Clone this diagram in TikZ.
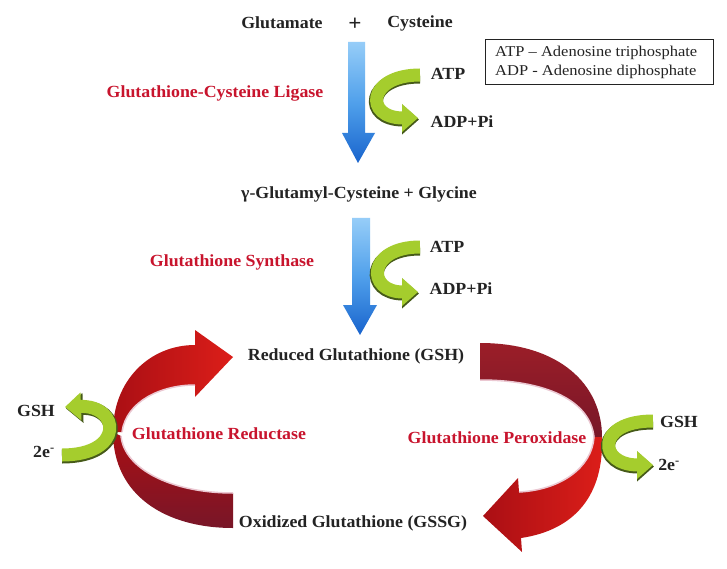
\documentclass[tikz,border=0pt]{standalone}
\usepackage{fontspec}
\setmainfont{Liberation Serif}[FakeStretch=1.05]
\newfontfamily\boxfont{Liberation Serif}[FakeStretch=1.1,Ligatures=TeX]
\usetikzlibrary{arrows.meta}
\definecolor{txt}{RGB}{35,35,35}
\definecolor{enzred}{RGB}{200,20,45}
\definecolor{bluelight}{RGB}{150,205,248}
\definecolor{bluemid}{RGB}{80,160,235}
\definecolor{bluedark}{RGB}{25,100,205}
\definecolor{glight}{RGB}{165,205,45}
\definecolor{gdark}{RGB}{70,90,25}
\definecolor{redbright}{RGB}{220,30,25}
\definecolor{reddeep}{RGB}{170,15,20}
\definecolor{maroonA}{RGB}{120,22,40}
\definecolor{maroonB}{RGB}{155,30,40}
\definecolor{edgepink}{RGB}{235,200,210}
\begin{document}
\begin{tikzpicture}[x=1pt,y=-1pt,
  lbl/.style={font=\fontsize{17}{19}\selectfont\bfseries, text=txt, inner sep=0pt},
  enz/.style={lbl, text=enzred},
  bluearrow/.style={top color=bluelight, bottom color=bluedark, middle color=bluemid, draw=none},
  gshadow/.style={draw=gdark, line width=14pt, -{Triangle[length=17pt, width=29pt]}},
  gmain/.style={draw=glight, line width=13pt, -{Triangle[length=16pt, width=27pt]}},
  brightband/.style={left color=reddeep, right color=redbright, draw=none},
  maroonband/.style={top color=maroonB, bottom color=maroonA, draw=none},
  darkband/.style={top color=reddeep, bottom color=maroonA, draw=none},
  hilite/.style={draw=edgepink, line width=1.5pt}
]
\useasboundingbox (0,0) rectangle (727,569);
\fill[white] (0,0) rectangle (727,569);

% ---- top reaction
\node[lbl] (glu) at (282,23) {Glutamate};
\node[lbl, font=\fontsize{22}{22}\selectfont\bfseries] (plus) at (355,24) {+};
\node[lbl] (cys) at (420,23) {Cysteine};

\node[draw=txt, line width=0.8pt, minimum width=228pt, minimum height=45pt, inner sep=0pt] (legend) at (599,61.5) {};
\node[font=\boxfont\fontsize{15}{19}\selectfont, text=txt, align=left, inner sep=0pt, anchor=west] (legtext) at (495,62.5) {ATP – Adenosine triphosphate\\ADP - Adenosine diphosphate};

% blue arrow 1
\path[bluearrow] (348,42) -- (365,42) -- (365,133) -- (375,133) -- (358,163) -- (342,133) -- (348,133) -- cycle;
% green arrow 1
\draw[gshadow] (420,76.5) .. controls (366,76.5) and (363,119.5) .. (419,119.5);
\draw[gmain] (420,75) .. controls (367,75) and (364,118) .. (418,118);
\node[lbl] (atp1) at (448,74) {ATP};
\node[lbl] (adp1) at (462,122) {ADP+Pi};
\node[enz] (ligase) at (215,93) {Glutathione-Cysteine Ligase};

\node[lbl] (gcg) at (359,194) {γ-Glutamyl-Cysteine + Glycine};

% blue arrow 2
\path[bluearrow] (352,218) -- (370,218) -- (370,305) -- (377,305) -- (360,335) -- (343,305) -- (352,305) -- cycle;
% green arrow 2
\draw[gshadow] (420,248.5) .. controls (366,248.5) and (365,293.5) .. (419,293.5);
\draw[gmain] (420,247) .. controls (367,247) and (366,292) .. (418,292);
\node[lbl] (atp2) at (447,247) {ATP};
\node[lbl] (adp2) at (461,289) {ADP+Pi};
\node[enz] (synth) at (232,262) {Glutathione Synthase};

% ---- cycle
\node[lbl] (gsh) at (356,356) {Reduced Glutathione (GSH)};
\node[lbl] (gssg) at (353,523) {Oxidized Glutathione (GSSG)};

% left bottom band (dark red)
\path[darkband] (113,432) .. controls (113,495) and (165,528) .. (233,528) -- (233,493) .. controls (170,493) and (124,468) .. (121,436) -- cycle;
\draw[hilite] (233,493) .. controls (170,493) and (124,468) .. (121,436);
% left top band (bright red with head)
\path[brightband] (113,432) .. controls (113,380) and (150,345) .. (195,345) -- (195,330) -- (233,357) -- (195,397) -- (195,385) .. controls (160,385) and (126,402) .. (122,432) -- cycle;
\draw[hilite] (195,385) .. controls (160,385) and (126,402) .. (122,432);

% right top band (maroon)
\path[maroonband] (480,343) .. controls (560,343) and (602,385) .. (602,437) -- (594,437) .. controls (590,400) and (545,380) .. (480,380) -- cycle;
\draw[hilite] (594,437) .. controls (590,400) and (545,380) .. (480,380);
% right bottom band (bright red with head)
\path[brightband] (602,437) .. controls (604,495) and (575,530) .. (521,538) -- (522,552) -- (483,516) -- (518,478) -- (519,492) .. controls (560,490) and (592,468) .. (594,437) -- cycle;
\draw[hilite] (519,492) .. controls (560,490) and (592,468) .. (594,437);

\node[enz] (red) at (219,434) {Glutathione Reductase};
\node[enz] (perox) at (497,438) {Glutathione Peroxidase};

% left green arrow
\draw[gshadow] (62,456.5) .. controls (126,456.5) and (121,406.5) .. (66,408.5);
\draw[gmain] (62,455) .. controls (125,455) and (120,405) .. (65,407);
\node[lbl] (gshL) at (36,411) {GSH};
\node[lbl] (eL) at (44,452) {2e\textsuperscript{-}};

% right green arrow
\draw[gshadow] (653,422.5) .. controls (594,422.5) and (597,466.5) .. (654,466.5);
\draw[gmain] (653,421) .. controls (595,421) and (598,465) .. (653,465);
\node[lbl] (gshR) at (679,422) {GSH};
\node[lbl] (eR) at (669,465) {2e\textsuperscript{-}};
\end{tikzpicture}
\end{document}
